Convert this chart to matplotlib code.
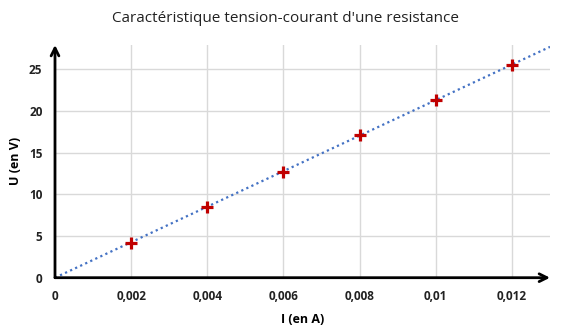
import numpy as np
import matplotlib.pyplot as plt

I = [0.002, 0.004, 0.006, 0.008, 0.010, 0.012]
U = [4.2, 8.5, 12.7, 17.1, 21.3, 25.55]
xticks = [0, 0.002, 0.004, 0.006, 0.008, 0.010, 0.012]
xtick_labels = ["0", "0,002", "0,004", "0,006", "0,008", "0,01", "0,012"]
yticks = [0, 5, 10, 15, 20, 25]

x = np.array(I)
y = np.array(U)
# linear trend forced through origin
k = np.sum(x * y) / np.sum(x * x)

plt.rcParams['font.family'] = ['Open Sans', 'DejaVu Sans']

fig = plt.figure(figsize=(5.7, 3.29), dpi=100)
ax = fig.add_axes([55 / 570, (329 - 277.7) / 329, (550 - 55) / 570, (277.7 - 45) / 329])
xmax, ymax = 0.013, 27.9
ax.set_xlim(0, xmax)
ax.set_ylim(0, ymax)

for xt in xticks[1:]:
    ax.axvline(xt, color='#d9d9d9', lw=1, zorder=0)
for yt in yticks[1:]:
    ax.axhline(yt, color='#d9d9d9', lw=1, zorder=0)

xl = np.array([0, xmax])
ax.plot(xl, k * xl, color='#4472c4', lw=1.6, ls=(0, (1, 1.5)), zorder=2)
ax.plot(x, y, ls='none', marker='+', ms=9, mew=2.3, color='#c00000', zorder=3)

for s in ax.spines.values():
    s.set_visible(False)
ax.annotate('', xy=(1.0, 0), xytext=(0, 0), xycoords='axes fraction',
            arrowprops=dict(arrowstyle='->', lw=2, color='black', mutation_scale=14,
                            shrinkA=0, shrinkB=0))
ax.annotate('', xy=(0, 1.0), xytext=(0, 0), xycoords='axes fraction',
            arrowprops=dict(arrowstyle='->', lw=2, color='black', mutation_scale=14,
                            shrinkA=0, shrinkB=0))

ax.set_xticks(xticks)
ax.set_xticklabels(xtick_labels, fontsize=8.5, fontweight='bold', color='#222222')
ax.set_yticks(yticks)
ax.set_yticklabels([str(v) for v in yticks], fontsize=8.5, fontweight='bold', color='#222222')
ax.tick_params(length=0, pad=9)

ax.set_xlabel("I (en A)", fontsize=9, fontweight='bold', labelpad=7)
ax.set_ylabel("U (en V)", fontsize=9, fontweight='bold', labelpad=5)
fig.text(0.5, 1 - 18 / 329, "Caractéristique tension-courant d'une resistance",
         ha='center', va='center', fontsize=11, color='#222222')

fig.savefig('out.png', dpi=100)
